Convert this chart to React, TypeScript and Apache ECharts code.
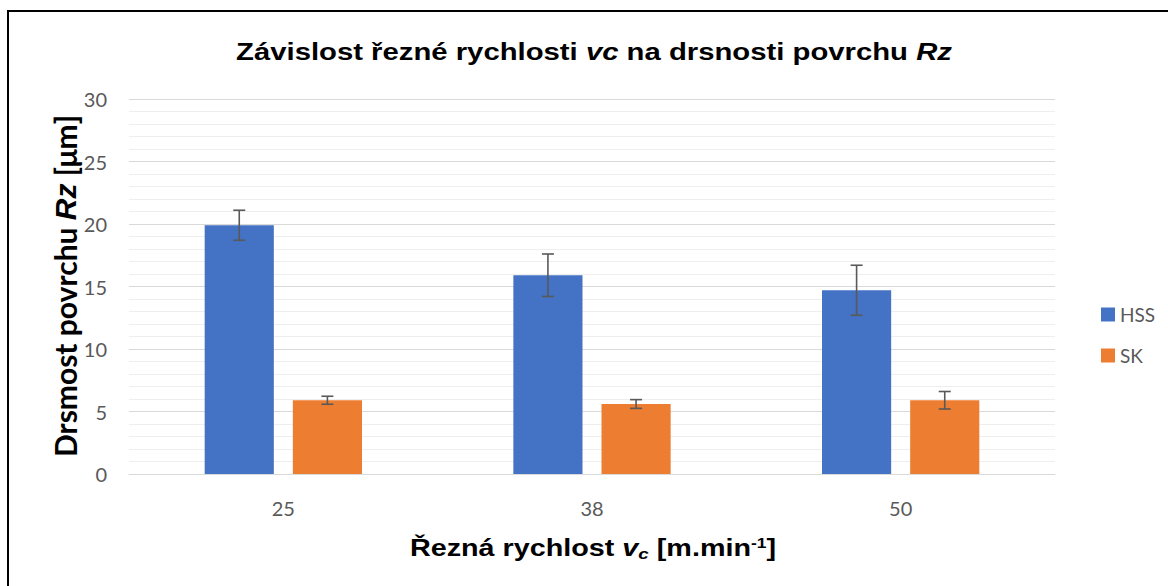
import React, { useEffect, useRef } from "react";
import * as echarts from "echarts";

const categories = ["25", "38", "50"];
const hssValues = [19.9, 15.9, 14.7];
const hssErrors = [1.2, 1.7, 2.0];
const skValues = [5.9, 5.6, 5.9];
const skErrors = [0.32, 0.35, 0.7];
const seriesNames = ["HSS", "SK"];
const colors = ["#4472C4", "#ED7D31"];

const BAR_W = 0.224;
const BAR_GAP = 0.275;

function errorSeries(values: number[], errors: number[], side: number) {
  return {
    type: "custom",
    silent: true,
    z: 10,
    data: values.map((v, i) => [i, v - errors[i], v + errors[i]]),
    encode: { x: 0, y: [1, 2] },
    renderItem: (params: any, api: any) => {
      const idx = api.value(0);
      const bw = api.size([1, 0])[0];
      const barW = bw * BAR_W;
      const off = side * (barW + barW * BAR_GAP) / 2;
      const lo = api.coord([idx, api.value(1)]);
      const hi = api.coord([idx, api.value(2)]);
      const x = lo[0] + off;
      const cap = 6;
      const style = { stroke: "#595959", lineWidth: 1.6 };
      return {
        type: "group",
        children: [
          { type: "line", shape: { x1: x, y1: lo[1], x2: x, y2: hi[1] }, style },
          { type: "line", shape: { x1: x - cap, y1: lo[1], x2: x + cap, y2: lo[1] }, style },
          { type: "line", shape: { x1: x - cap, y1: hi[1], x2: x + cap, y2: hi[1] }, style },
        ],
      };
    },
  };
}

export default function App() {
  const ref = useRef<HTMLDivElement>(null);
  useEffect(() => {
    if (!ref.current) return;
    const chart = echarts.init(ref.current, null, { renderer: "svg" });
    const titleFont = "'Liberation Sans', Arial, sans-serif";
    const labelFont = "Lato, 'Open Sans', sans-serif";
    chart.setOption({
      animation: false,
      backgroundColor: "#ffffff",
      grid: { left: 129, right: 113, top: 99, bottom: 112 },
      legend: {
        orient: "vertical",
        left: 1096,
        top: 300,
        itemGap: 22,
        itemWidth: 14,
        itemHeight: 14,
        itemTextGap: 7,
        icon: "rect",
        textStyle: { color: "#595959", fontSize: 19, fontFamily: labelFont },
        data: seriesNames,
      },
      xAxis: {
        type: "category",
        data: categories,
        axisLine: { lineStyle: { color: "#d9d9d9", width: 1 } },
        axisTick: { show: false },
        axisLabel: { color: "#595959", fontSize: 20, margin: 24, fontFamily: labelFont },
      },
      yAxis: {
        type: "value",
        min: 0,
        max: 30,
        interval: 5,
        axisLine: { show: false },
        axisTick: { show: false },
        axisLabel: { color: "#595959", fontSize: 20, margin: 22, fontFamily: labelFont },
        splitLine: { lineStyle: { color: "#d9d9d9", width: 1 } },
        minorTick: { show: false, splitNumber: 5 },
        minorSplitLine: { show: true, lineStyle: { color: "#eeeeee", width: 1 } },
      },
      series: [
        {
          name: seriesNames[0],
          type: "bar",
          data: hssValues,
          barWidth: BAR_W * 100 + "%",
          barGap: BAR_GAP * 100 + "%",
          itemStyle: { color: colors[0] },
        },
        {
          name: seriesNames[1],
          type: "bar",
          data: skValues,
          barWidth: BAR_W * 100 + "%",
          barGap: BAR_GAP * 100 + "%",
          itemStyle: { color: colors[1] },
        },
        errorSeries(hssValues, hssErrors, -1),
        errorSeries(skValues, skErrors, 1),
      ],
      graphic: [
        {
          type: "rect",
          shape: { x: 8, y: 11, width: 1200, height: 620 },
          style: { fill: "none", stroke: "#000000", lineWidth: 2 },
          silent: true,
        },
        {
          type: "text",
          x: 594,
          y: 52,
          scaleX: 1.22,
          style: {
            text: "{n|Závislost řezné rychlosti }{i|vc}{n| na drsnosti povrchu }{i|Rz}",
            align: "center",
            verticalAlign: "middle",
            fill: "#000",
            rich: {
              n: { fontSize: 24, fontWeight: "bold", fontFamily: titleFont, fill: "#000" },
              i: { fontSize: 24, fontWeight: "bold", fontStyle: "italic", fontFamily: titleFont, fill: "#000" },
            },
          },
        },
        {
          type: "text",
          x: 593,
          y: 548,
          scaleX: 1.25,
          style: {
            text: "{n|Řezná rychlost }{i|v}{sub|c}{n| [m.min}{sup|-1}{n|]}",
            align: "center",
            verticalAlign: "middle",
            fill: "#000",
            rich: {
              n: { fontSize: 23, fontWeight: "bold", fontFamily: titleFont, fill: "#000" },
              i: { fontSize: 23, fontWeight: "bold", fontStyle: "italic", fontFamily: titleFont, fill: "#000" },
              sub: { fontSize: 15, fontWeight: "bold", fontStyle: "italic", fontFamily: titleFont, fill: "#000", padding: [12, 0, 0, 0] },
              sup: { fontSize: 14, fontWeight: "bold", fontFamily: titleFont, fill: "#000", padding: [0, 0, 10, 0] },
            },
          },
        },
        {
          type: "text",
          x: 65,
          y: 286,
          rotation: Math.PI / 2,
          style: {
            text: "{n|Drsmost povrchu }{i|Rz}{n| [μm]}",
            align: "center",
            verticalAlign: "middle",
            fill: "#000",
            rich: {
              n: { fontSize: 30, fontWeight: "bold", fontFamily: labelFont, fill: "#000" },
              i: { fontSize: 30, fontWeight: "bold", fontStyle: "italic", fontFamily: titleFont, fill: "#000" },
            },
          },
        },
      ],
    });
    return () => chart.dispose();
  }, []);
  return (
    <div
      ref={ref}
      style={{ position: "fixed", left: 0, top: 0, width: 1168, height: 586 }}
    />
  );
}
